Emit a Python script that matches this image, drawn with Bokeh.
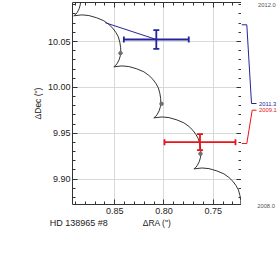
import numpy as np
from bokeh.plotting import figure
from bokeh.models import Range1d, LinearAxis, FixedTicker, NumeralTickFormatter
from bokeh.layouts import row, column
from bokeh.embed import file_html
from bokeh.resources import INLINE
from bokeh.core.properties import value

# ---------------- data ----------------
track_ra = [
    0.8871, 0.8856, 0.8848, 0.8846, 0.8851, 0.8863, 0.8881, 0.8896,
    0.8917, 0.8835, 0.8764, 0.8683, 0.8612, 0.8561, 0.8520, 0.8490,
    0.8464, 0.8449, 0.8441, 0.8439, 0.8444, 0.8456, 0.8475, 0.8490,
    0.8510, 0.8428, 0.8357, 0.8276, 0.8205, 0.8154, 0.8113, 0.8083,
    0.8057, 0.8042, 0.8034, 0.8032, 0.8037, 0.8049, 0.8068, 0.8083,
    0.8103, 0.8021, 0.7950, 0.7869, 0.7798, 0.7747, 0.7706, 0.7676,
    0.7650, 0.7635, 0.7627, 0.7625, 0.7630, 0.7642, 0.7661, 0.7676,
    0.7696, 0.7614, 0.7543, 0.7462, 0.7391, 0.7340, 0.7299, 0.7269,
    0.7243, 0.7228, 0.7220, 0.7218, 0.7223, 0.7235]
track_dec = [
    10.1107, 10.1047, 10.0992, 10.0943, 10.0900, 10.0856, 10.0818, 10.0796,
    10.0780, 10.0790, 10.0783, 10.0758, 10.0726, 10.0687, 10.0644, 10.0600,
    10.0551, 10.0491, 10.0437, 10.0388, 10.0344, 10.0301, 10.0263, 10.0241,
    10.0224, 10.0234, 10.0227, 10.0202, 10.0170, 10.0131, 10.0088, 10.0044,
    9.9995, 9.9935, 9.9881, 9.9832, 9.9788, 9.9745, 9.9707, 9.9685,
    9.9668, 9.9678, 9.9671, 9.9646, 9.9614, 9.9575, 9.9532, 9.9488,
    9.9439, 9.9379, 9.9325, 9.9276, 9.9232, 9.9189, 9.9151, 9.9129,
    9.9112, 9.9122, 9.9115, 9.9090, 9.9058, 9.9019, 9.8976, 9.8932,
    9.8883, 9.8823, 9.8769, 9.8720, 9.8676, 9.8633]

dot_ra = [0.8442, 0.8025, 0.7629]
dot_dec = [10.0373, 9.9821, 9.9277]

obs_epoch = ["2011.3", "2009.1"]
obs_ra = [0.8078, 0.7634]
obs_dec = [10.0522, 9.9403]
obs_ra_err = [0.0330, 0.0361]
obs_dec_err = [0.0103, 0.0087]
pred_ra = [0.8595, 0.7640]
pred_dec = [10.0704, 9.9410]
obs_color = ["#24249c", "#e8141c"]

track_epochs = ["2012.0", "2008.0"]
x_ticks = [0.75, 0.80, 0.85]
y_ticks = [9.90, 9.95, 10.00, 10.05]
x_title = 'ΔRA (")'
y_title = 'ΔDec (")'
star_name = "HD 138965 #8"

# ---------------- layout ----------------
FONT = "Liberation Sans"
X0, X1 = 0.8930, 0.7212
Y0, Y1 = 9.8724, 10.0925
LEFT, TOP = 72, 2
FW, FH = 169, 202
BOT = 15
AX = "#333333"
TXT = "#222222"

p = figure(frame_width=FW, frame_height=FH,
           x_range=Range1d(X0, X1), y_range=Range1d(Y0, Y1),
           output_backend="svg", toolbar_location=None,
           min_border_left=LEFT, min_border_right=0, min_border_top=TOP,
           min_border_bottom=BOT, outline_line_color=None,
           background_fill_color="white", border_fill_color="white")

xticker = FixedTicker(ticks=x_ticks,
                      minor_ticks=[round(v, 2) for v in np.arange(0.72, 0.895, 0.01)])
yticker = FixedTicker(ticks=y_ticks,
                      minor_ticks=[round(v, 2) for v in np.arange(9.87, 10.095, 0.01)])


def style(ax, labels):
    ax.major_tick_in = 5
    ax.major_tick_out = 0
    ax.minor_tick_in = 3
    ax.minor_tick_out = 0
    ax.axis_line_color = AX
    ax.major_tick_line_color = AX
    ax.minor_tick_line_color = AX
    ax.axis_line_width = 1
    if labels:
        ax.major_label_text_font = FONT
        ax.major_label_text_font_size = "9px"
        ax.major_label_text_color = TXT
        ax.axis_label_text_font = FONT
        ax.axis_label_text_font_size = "8.5px"
        ax.axis_label_text_font_style = "normal"
        ax.axis_label_text_color = TXT
        ax.formatter = NumeralTickFormatter(format="0.00")
    else:
        ax.major_label_text_font_size = "0px"
        ax.major_label_text_color = None
        ax.major_label_standoff = 0
        ax.axis_label = None


xa = p.xaxis[0]
xa.ticker = xticker
style(xa, True)
xa.axis_label = None
xa.major_label_standoff = 3

ya = p.yaxis[0]
ya.ticker = yticker
style(ya, True)
ya.axis_label = y_title
ya.major_label_standoff = 2
ya.axis_label_standoff = 2

top = LinearAxis(ticker=xticker)
style(top, False)
p.add_layout(top, "above")
right = LinearAxis(ticker=yticker)
style(right, False)
p.add_layout(right, "right")

p.xgrid.ticker = xticker
p.ygrid.ticker = yticker
p.grid.grid_line_color = "#d9d9d9"
p.grid.grid_line_width = 1

# track + yearly dots
p.line(track_ra, track_dec, line_color="#333333", line_width=1)
p.scatter(dot_ra, dot_dec, size=3.5, color="#707070")

# predicted -> measured
p.segment(pred_ra, pred_dec, obs_ra, obs_dec, line_color=obs_color, line_width=1)

# error bars
ra_lo = [r - e for r, e in zip(obs_ra, obs_ra_err)]
ra_hi = [r + e for r, e in zip(obs_ra, obs_ra_err)]
de_lo = [d - e for d, e in zip(obs_dec, obs_dec_err)]
de_hi = [d + e for d, e in zip(obs_dec, obs_dec_err)]
p.segment(ra_lo, obs_dec, ra_hi, obs_dec, line_color=obs_color, line_width=1.8)
p.segment(obs_ra, de_lo, obs_ra, de_hi, line_color=obs_color, line_width=1.8)
p.scatter(ra_lo + ra_hi, obs_dec + obs_dec, marker="dash", size=6, angle=np.pi / 2,
          line_color=obs_color + obs_color, line_width=1.8)
p.scatter(obs_ra + obs_ra, de_lo + de_hi, marker="dash", size=6,
          line_color=obs_color + obs_color, line_width=1.8)

# ---------------- right-hand epoch annotations ----------------
S = (Y1 - Y0) / FH          # data units per pixel
EXT = 6
P2W = 36
p2 = figure(frame_width=P2W, frame_height=TOP + FH + EXT,
            x_range=Range1d(0, P2W), y_range=Range1d(Y0 - EXT * S, Y1 + TOP * S),
            output_backend="svg", toolbar_location=None,
            x_axis_location=None, y_axis_location=None,
            min_border_left=0, min_border_right=0, min_border_top=0,
            min_border_bottom=0, outline_line_color=None,
            background_fill_color="white", border_fill_color="white")
p2.xgrid.visible = False
p2.ygrid.visible = False

label_dec = [Y1 - 99 * S, Y1 - 105.7 * S]
xs = [[0, 5.3, 10, 15], [0, 5.3, 10.7, 15]]
ys = [[pd, pd, ld, ld] for pd, ld in zip(pred_dec, label_dec)]
p2.multi_line(xs, ys, line_color=obs_color, line_width=1)
p2.text(x=[17.5, 17.5], y=label_dec, text=obs_epoch, text_color=obs_color,
        text_font=value(FONT), text_font_size="5.8px",
        text_baseline="middle", text_align="left")
p2.text(x=[16.5], y=[Y1 - 0.5 * S], text=[track_epochs[0]], text_color="#555555",
        text_font=value(FONT), text_font_size="5.8px",
        text_baseline="middle", text_align="left")
p2.text(x=[15.7], y=[Y0 + 0.7 * S], text=[track_epochs[1]], text_color="#555555",
        text_font=value(FONT), text_font_size="5.8px",
        text_baseline="middle", text_align="left")

# ---------------- bottom text line ----------------
H_ROW = TOP + FH + BOT
TOTAL_W = LEFT + FW + P2W
p3 = figure(frame_width=TOTAL_W, frame_height=14,
            x_range=Range1d(0, TOTAL_W), y_range=Range1d(14, 0),
            output_backend="svg", toolbar_location=None,
            x_axis_location=None, y_axis_location=None,
            min_border_left=0, min_border_right=0, min_border_top=0,
            min_border_bottom=0, outline_line_color=None,
            background_fill_color="white", border_fill_color="white")
p3.xgrid.visible = False
p3.ygrid.visible = False
p3.text(x=[49.3], y=[222.3 - H_ROW], text=[star_name], text_color=TXT,
        text_font=value(FONT), text_font_size="9px",
        text_baseline="middle", text_align="left")
p3.text(x=[LEFT + FW / 2], y=[222.5 - H_ROW], text=[x_title], text_color=TXT,
        text_font=value(FONT), text_font_size="8.5px",
        text_baseline="middle", text_align="center")

layout = column(row(p, p2), p3)
open("out.html", "w").write(file_html(layout, INLINE))
